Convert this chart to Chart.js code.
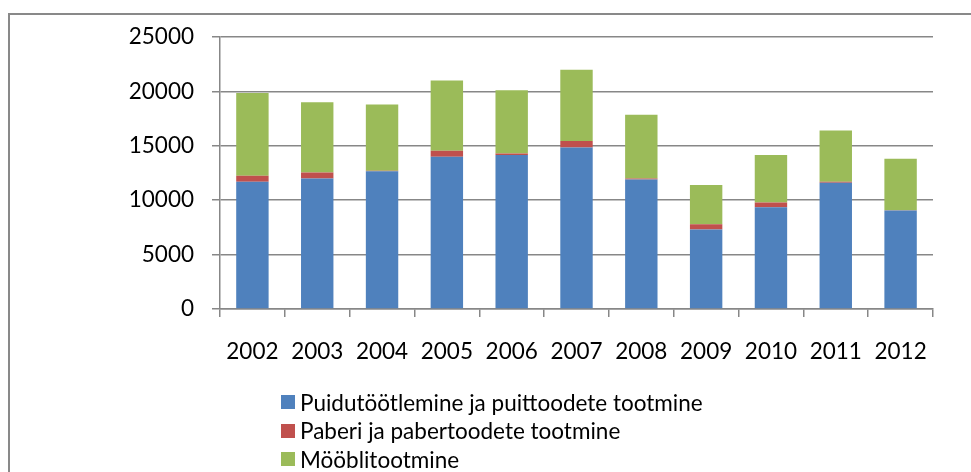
<!DOCTYPE html>
<html lang="et">

<head>
    <meta charset="UTF-8">
    <title>Puidutööstus</title>
    <script src="https://cdn.jsdelivr.net/npm/chart.js"></script>
    <style>
        html, body {
            margin: 0;
            padding: 0;
            background: #fff;
            overflow: hidden;
        }

        #wrap {
            position: relative;
            width: 971px;
            height: 472px;
        }

        #frame {
            position: absolute;
            left: 8px;
            top: 13px;
            width: 1000px;
            height: 520px;
            border: 2px solid #898989;
        }

        canvas {
            position: absolute;
            left: 0;
            top: 0;
        }

        #legend {
            position: absolute;
            left: 281px;
            top: 388px;
            font-family: Lato, sans-serif;
            font-size: 22.5px;
            color: #000;
        }

        #legend div {
            height: 28.5px;
            display: flex;
            align-items: center;
        }

        #legend span.box {
            display: inline-block;
            width: 14px;
            height: 14px;
            margin-right: 5px;
        }
    </style>
</head>

<body>
    <div id="wrap">
        <div id="frame"></div>
        <canvas id="chart" width="971" height="472"></canvas>
        <div id="legend"></div>
    </div>

    <script>
        const years = ['2002', '2003', '2004', '2005', '2006', '2007', '2008', '2009', '2010', '2011', '2012'];
        const puit = [11700, 12000, 12650, 14000, 14150, 14850, 11900, 7300, 9350, 11600, 9050];
        const paber = [550, 550, 50, 550, 150, 600, 100, 500, 450, 100, 20];
        const mooebel = [7600, 6450, 6100, 6450, 5800, 6550, 5850, 3600, 4350, 4700, 4750];

        const gridColor = '#878787';
        const tickFont = { family: 'Lato, sans-serif', size: 22.5 };

        const chart = new Chart(document.getElementById('chart'), {
            type: 'bar',
            data: {
                labels: years,
                datasets: [{
                    label: 'Puidutöötlemine ja puittoodete tootmine',
                    data: puit,
                    backgroundColor: '#4F81BD'
                }, {
                    label: 'Paberi ja pabertoodete tootmine',
                    data: paber,
                    backgroundColor: '#C0504D'
                }, {
                    label: 'Mööblitootmine',
                    data: mooebel,
                    backgroundColor: '#9BBB59'
                }]
            },
            options: {
                responsive: false,
                animation: false,
                layout: {
                    padding: { top: 37, right: 38, left: 0, bottom: 0 }
                },
                datasets: {
                    bar: {
                        categoryPercentage: 1,
                        barPercentage: 0.5
                    }
                },
                plugins: {
                    legend: { display: false },
                    tooltip: { enabled: false }
                },
                scales: {
                    x: {
                        stacked: true,
                        grid: {
                            drawOnChartArea: false,
                            color: gridColor,
                            lineWidth: 1.5,
                            tickLength: 8
                        },
                        border: { color: gridColor, width: 1.5 },
                        ticks: {
                            color: '#000',
                            font: tickFont,
                            padding: 21,
                            maxRotation: 0
                        },
                        afterFit: scale => { scale.height = 163; }
                    },
                    y: {
                        stacked: true,
                        min: 0,
                        max: 25000,
                        grid: {
                            color: gridColor,
                            lineWidth: 1.5,
                            tickLength: 8
                        },
                        border: { color: gridColor, width: 1.5 },
                        ticks: {
                            stepSize: 5000,
                            color: '#000',
                            font: tickFont,
                            padding: 18,
                            callback: v => String(v)
                        },
                        afterFit: scale => { scale.width = 220; }
                    }
                }
            }
        });

        // legend stacked vertically under the axis labels
        const legend = document.getElementById('legend');
        chart.data.datasets.forEach(ds => {
            const row = document.createElement('div');
            const box = document.createElement('span');
            box.className = 'box';
            box.style.background = ds.backgroundColor;
            row.appendChild(box);
            row.appendChild(document.createTextNode(ds.label));
            legend.appendChild(row);
        });
    </script>
</body>

</html>
